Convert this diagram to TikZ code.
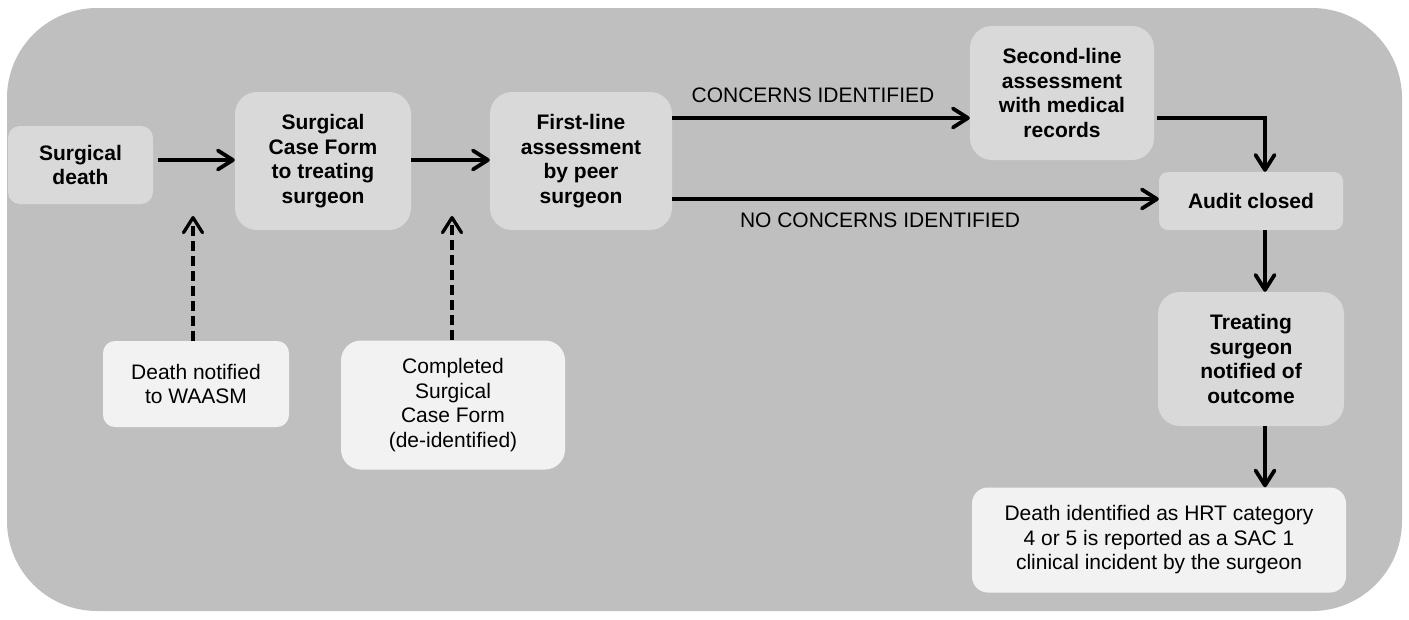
\documentclass[tikz,border=0pt]{standalone}
\usepackage{fontspec}
\setmainfont{Liberation Sans}
\usetikzlibrary{arrows.meta}
\definecolor{bgc}{HTML}{BFBFBF}
\definecolor{boxd}{HTML}{D9D9D9}
\definecolor{boxl}{HTML}{F2F2F2}
\begin{document}
\begin{tikzpicture}[x=1pt,y=-1pt,
  base/.style={rounded corners=#1, align=center, inner sep=0pt,
    font=\fontsize{21}{24.5}\selectfont},
  dk/.style={base=#1, fill=boxd, font=\fontsize{21}{24.5}\selectfont\bfseries},
  lt/.style={base=#1, fill=boxl},
  lbl/.style={inner sep=0pt, font=\fontsize{21}{24.5}\selectfont},
  arr/.style={line width=3.8pt, -{Straight Barb[length=15pt,width=19pt,round]}},
  darr/.style={line width=3.3pt, dash pattern=on 10pt off 5pt,
    -{Straight Barb[length=15pt,width=19pt,round]}}
]
\useasboundingbox (0,0) rectangle (1409,619);
\fill[bgc, rounded corners=90] (7,8) rectangle (1402,611);

\node[dk=12, minimum width=145, minimum height=78] (sd) at (80.5,165) {Surgical\\death};
\node[dk=22, minimum width=176, minimum height=138] (scf) at (323,161) {Surgical\\Case Form\\to treating\\surgeon};
\node[dk=22, minimum width=182, minimum height=138] (fla) at (581,161) {First-line\\assessment\\by peer\\surgeon};
\node[dk=22, minimum width=184, minimum height=134] (sla) at (1062,93) {Second-line\\assessment\\with medical\\records};
\node[dk=9, minimum width=184, minimum height=58] (ac) at (1251,201) {Audit closed};
\node[dk=22, minimum width=186, minimum height=134] (tsn) at (1251,359) {Treating\\surgeon\\notified of\\outcome};
\node[lt=16, minimum width=374, minimum height=105] (dih) at (1159,540) {Death identified as HRT category\\4 or 5 is reported as a SAC 1\\clinical incident by the surgeon};
\node[lt=12, minimum width=186, minimum height=86] (dn) at (196,384) {Death notified\\to WAASM};
\node[lt=20, minimum width=224, minimum height=129] (csf) at (453,405) {Completed\\Surgical\\Case Form\\(de-identified)};

\node[lbl] (lc) at (813,95) {CONCERNS IDENTIFIED};
\node[lbl] (lnc) at (880,220) {NO CONCERNS IDENTIFIED};

\coordinate (t1) at (193,216);
\coordinate (t2) at (452,216);

\draw[arr] ([xshift=5pt]sd.east |- 0,160) -- (scf.west |- 0,160);
\draw[arr] (scf.east |- 0,160) -- (fla.west |- 0,160);
\draw[arr] (fla.east |- 0,118) -- (sla.west |- 0,118);
\draw[arr] (fla.east |- 0,199) -- (ac.west |- 0,199);
\draw[arr] ([xshift=3pt]sla.east |- 0,118) -| (ac.north -| 1265,0);
\draw[arr] (ac.south -| 1265,0) -- (tsn.north -| 1265,0);
\draw[arr] (tsn.south -| 1265,0) -- (dih.north -| 1265,0);
\draw[darr] (dn.north -| t1) -- (t1);
\draw[darr] (csf.north -| t2) -- (t2);
\end{tikzpicture}
\end{document}
